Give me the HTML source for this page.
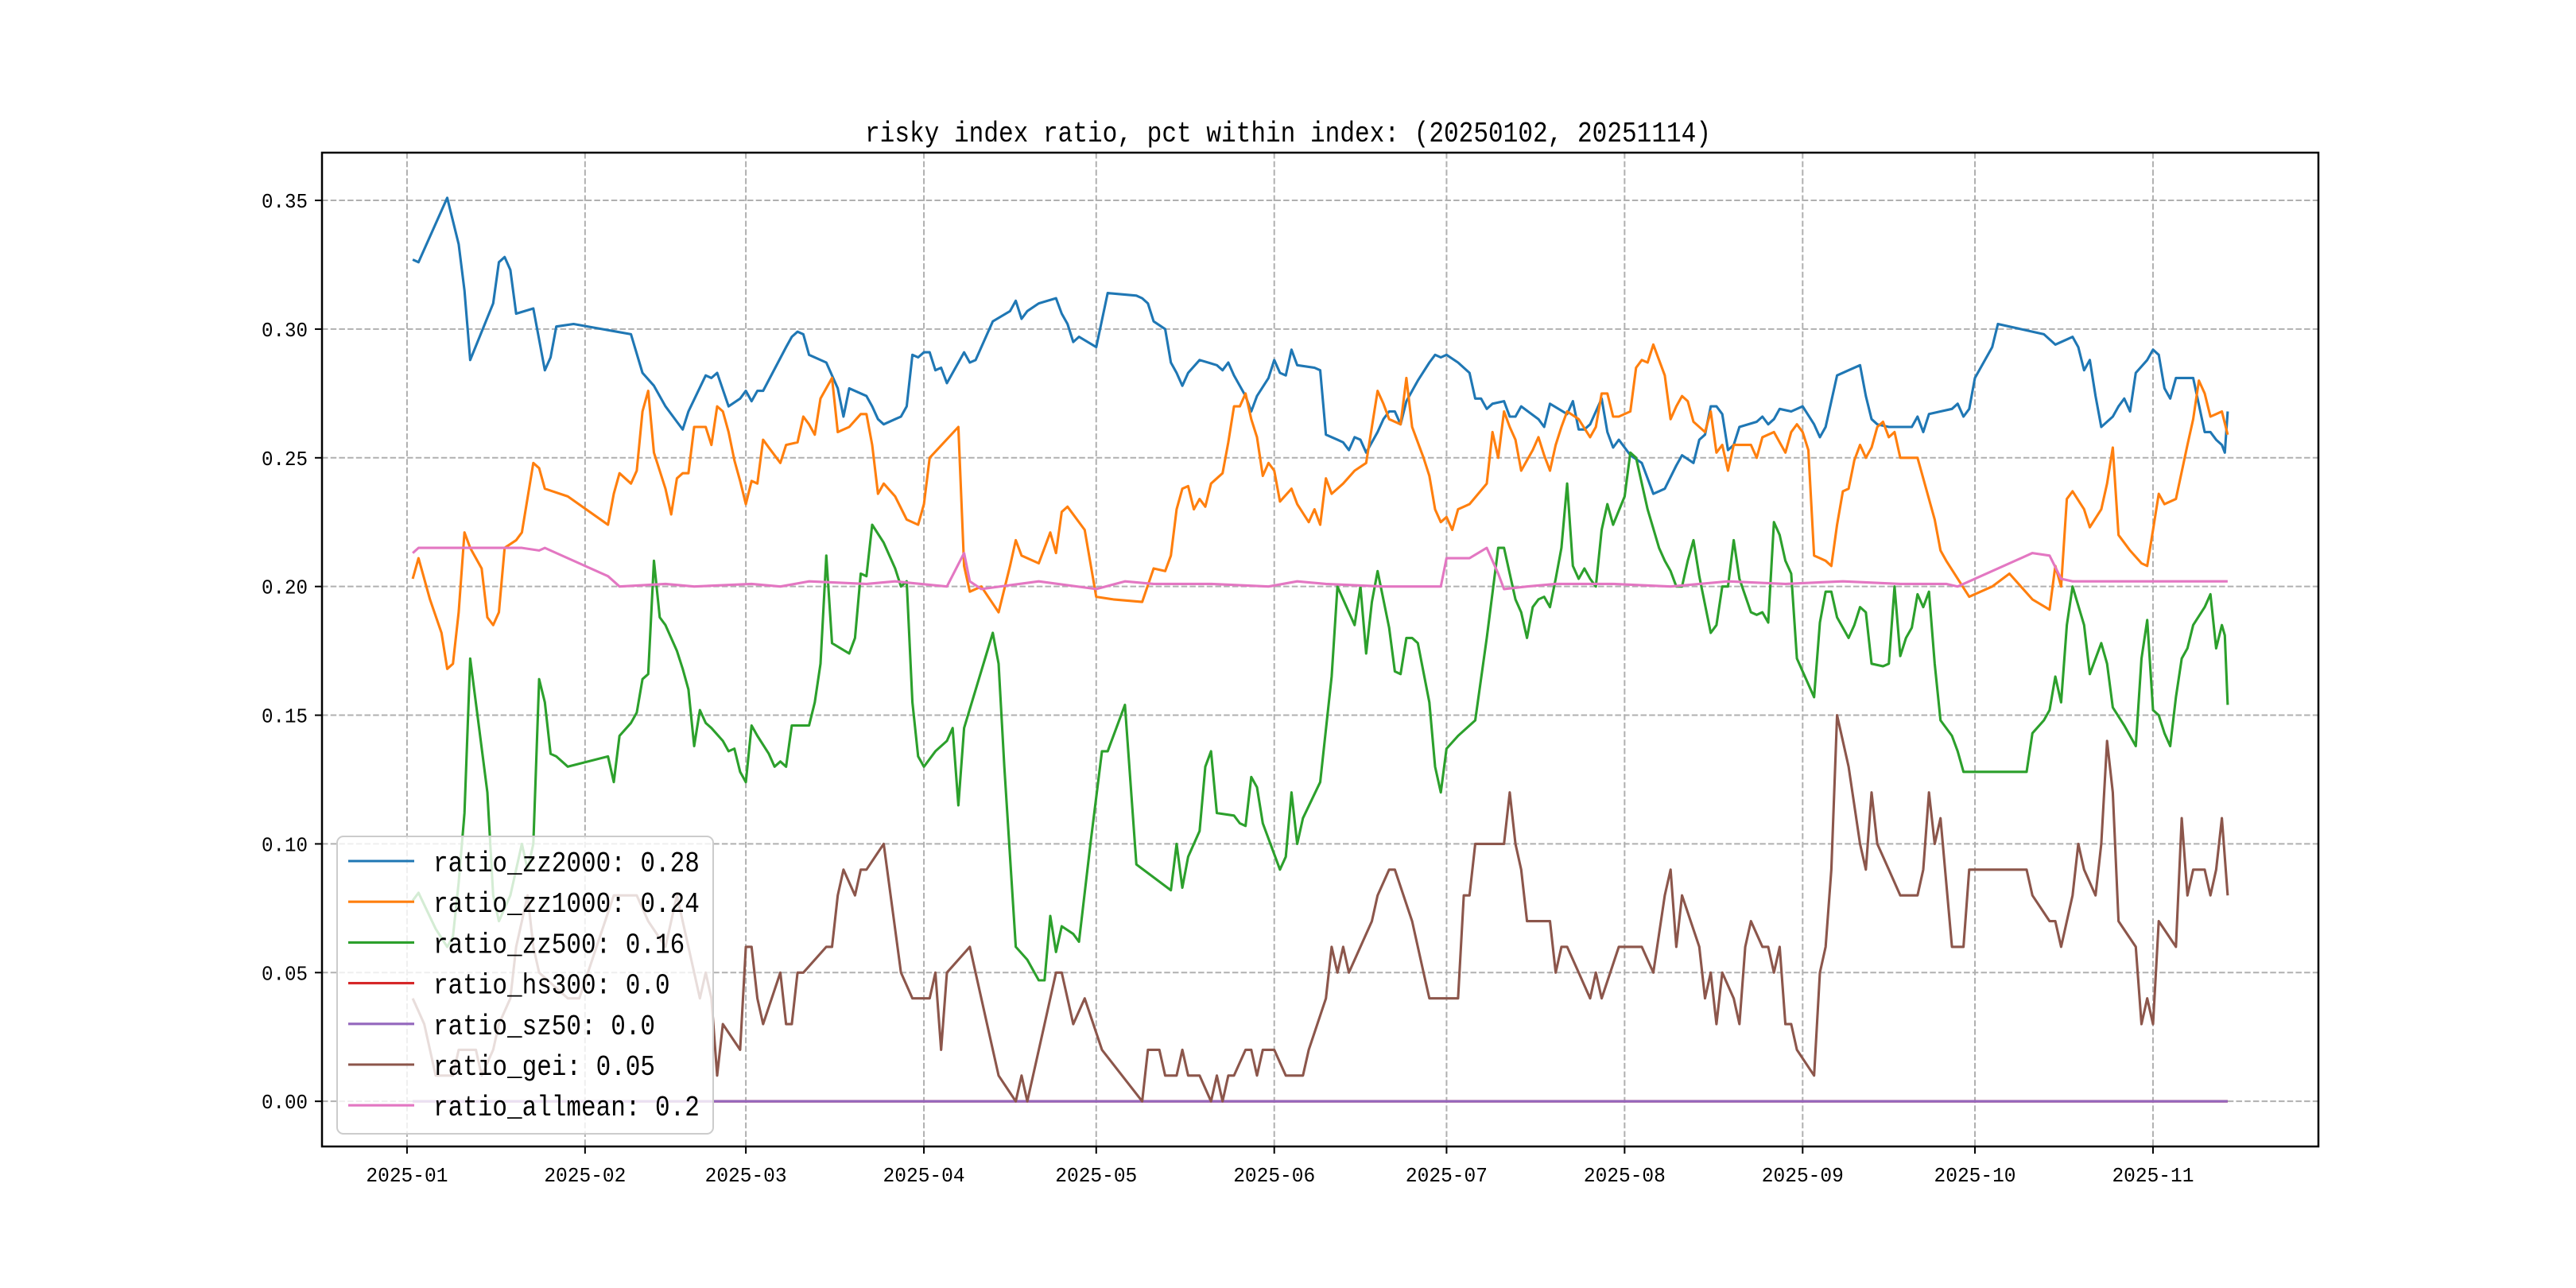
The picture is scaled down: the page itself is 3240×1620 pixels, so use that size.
<!DOCTYPE html>
<html><head><meta charset="utf-8"><title>risky index ratio</title>
<style>html,body{margin:0;padding:0;background:#fff}svg{display:block}text{font-family:"Liberation Mono","Noto Sans CJK SC",monospace}</style>
</head><body>
<svg id="chart" width="3240" height="1620" viewBox="0 0 3240 1620" xmlns="http://www.w3.org/2000/svg">
<rect x="0" y="0" width="3240" height="1620" fill="#fff"/>
<text x="1620" y="178" text-anchor="middle" font-size="36" textLength="1064" lengthAdjust="spacingAndGlyphs">risky index ratio, pct within index: (20250102, 20251114)</text>
<g id="grid"></g>
<g id="series"></g>
<rect x="405" y="192" width="2511" height="1250" fill="none" stroke="#000" stroke-width="2.5"/>
<g id="ticks"></g>
<g id="legend"></g>
</svg>
<script>
const monthDays=[0,31,59,90,120,151,181,212,243,273,304];
const monthLabels=["2025-01","2025-02","2025-03","2025-04","2025-05","2025-06","2025-07","2025-08","2025-09","2025-10","2025-11"];
const yTicks=[0,0.05,0.10,0.15,0.20,0.25,0.30,0.35];
const yTickLabels=["0.00","0.05","0.10","0.15","0.20","0.25","0.30","0.35"];
const seriesNames=["ratio_zz2000: 0.28","ratio_zz1000: 0.24","ratio_zz500: 0.16","ratio_hs300: 0.0","ratio_sz50: 0.0","ratio_gei: 0.05","ratio_allmean: 0.2"];
const colors=["#1f77b4","#ff7f0e","#2ca02c","#d62728","#9467bd","#8c564b","#e377c2"];

const zz2000Days=[1,2,7,9,10,11,15,16,17,18,19,22,24,25,26,29,39,41,43,45,47,48,49,52,53,54,56,58,59,60,61,62,66,67,68,69,70,73,74,75,76,77,80,81,82,83,85,86,87,88,89,90,91,92,93,94,97,98,99,101,102,105,106,107,108,110,113,114,115,116,117,120,122,127,128,129,130,132,133,134,135,136,138,141,142,143,144,146,147,148,150,151,152,153,154,155,158,159,160,162,163,164,165,166,167,169,170,171,172,173,174,176,178,179,180,181,183,185,186,187,188,189,191,192,193,194,197,198,199,202,203,204,205,206,208,209,210,211,213,215,216,217,218,219,221,222,224,225,226,227,228,229,230,231,232,235,236,237,238,239,241,243,245,246,247,248,249,251,253,254,255,256,258,260,262,263,264,265,267,269,270,271,272,273,274,276,277,285,287,289,290,291,292,293,294,295,297,298,299,300,301,303,304,305,306,307,308,310,311,313,314,315,316,316.5,317];
const zz2000Vals=[0.327,0.326,0.351,0.333,0.315,0.288,0.31,0.326,0.328,0.323,0.306,0.308,0.284,0.289,0.301,0.302,0.298,0.283,0.278,0.27,0.264,0.261,0.268,0.282,0.281,0.283,0.27,0.273,0.276,0.272,0.276,0.276,0.293,0.297,0.299,0.298,0.29,0.287,0.282,0.277,0.266,0.277,0.274,0.27,0.265,0.263,0.265,0.266,0.27,0.29,0.289,0.291,0.291,0.284,0.285,0.279,0.291,0.287,0.288,0.298,0.303,0.307,0.311,0.304,0.307,0.31,0.312,0.306,0.302,0.295,0.297,0.293,0.314,0.313,0.312,0.31,0.303,0.3,0.287,0.283,0.278,0.283,0.288,0.286,0.284,0.287,0.282,0.274,0.268,0.274,0.281,0.288,0.283,0.282,0.292,0.286,0.285,0.284,0.259,0.257,0.256,0.253,0.258,0.257,0.252,0.26,0.265,0.268,0.268,0.263,0.272,0.28,0.287,0.29,0.289,0.29,0.287,0.283,0.273,0.273,0.269,0.271,0.272,0.266,0.266,0.27,0.265,0.262,0.271,0.267,0.272,0.261,0.261,0.263,0.273,0.26,0.254,0.257,0.251,0.248,0.242,0.236,0.237,0.238,0.247,0.251,0.248,0.257,0.259,0.27,0.27,0.267,0.253,0.255,0.262,0.264,0.266,0.263,0.265,0.269,0.268,0.27,0.263,0.258,0.262,0.272,0.282,0.284,0.286,0.274,0.265,0.263,0.262,0.262,0.262,0.266,0.26,0.267,0.268,0.269,0.271,0.266,0.269,0.281,0.285,0.293,0.302,0.298,0.294,0.296,0.297,0.293,0.284,0.288,0.274,0.262,0.266,0.27,0.273,0.268,0.283,0.288,0.292,0.29,0.277,0.273,0.281,0.281,0.281,0.26,0.26,0.257,0.255,0.252,0.268];

const zz1000Days=[1,2,4,6,7,8,9,10,11,13,14,15,16,17,19,20,22,23,24,28,35,36,37,39,40,41,42,43,45,46,47,48,49,50,52,53,54,55,56,57,58,59,60,61,62,63,65,66,68,69,70,71,72,74,75,77,79,80,81,82,83,85,87,89,90,91,96,97,98,100,103,105,106,107,110,111,112,113,114,115,118,120,123,128,130,132,133,134,135,136,137,138,139,140,142,143,144,145,146,147,148,149,150,151,152,154,155,157,158,159,160,161,163,165,167,168,169,170,171,173,174,175,177,178,179,180,181,182,183,185,188,189,190,191,192,193,194,196,197,198,199,200,201,202,204,206,207,208,209,210,211,213,214,215,216,217,218,219,220,221,222,223,224,225,226,227,228,229,230,231,234,235,236,238,239,240,241,242,243,244,245,247,248,249,250,251,252,253,254,255,256,257,258,259,260,262,263,264,266,267,268,272,276,279,283,286,287,288,289,290,292,293,295,296,297,298,300,302,303,304,305,306,308,310,311,312,313,314,315,316,317];
const zz1000Vals=[0.203,0.211,0.195,0.182,0.168,0.17,0.19,0.221,0.215,0.207,0.188,0.185,0.19,0.215,0.218,0.221,0.248,0.246,0.238,0.235,0.224,0.236,0.244,0.24,0.245,0.268,0.276,0.252,0.238,0.228,0.242,0.244,0.244,0.262,0.262,0.255,0.27,0.268,0.26,0.249,0.241,0.232,0.241,0.24,0.257,0.254,0.248,0.255,0.256,0.266,0.263,0.259,0.273,0.281,0.26,0.262,0.267,0.267,0.255,0.236,0.24,0.235,0.226,0.224,0.232,0.25,0.262,0.208,0.198,0.2,0.19,0.208,0.218,0.212,0.209,0.215,0.221,0.213,0.229,0.231,0.222,0.196,0.195,0.194,0.207,0.206,0.212,0.23,0.238,0.239,0.23,0.234,0.231,0.24,0.244,0.256,0.27,0.27,0.275,0.265,0.258,0.243,0.248,0.245,0.233,0.238,0.232,0.225,0.23,0.224,0.242,0.236,0.24,0.245,0.248,0.262,0.276,0.271,0.265,0.263,0.281,0.262,0.25,0.243,0.23,0.225,0.227,0.222,0.23,0.232,0.24,0.26,0.25,0.268,0.262,0.257,0.245,0.253,0.258,0.251,0.245,0.255,0.262,0.268,0.265,0.258,0.262,0.275,0.275,0.266,0.266,0.268,0.285,0.288,0.287,0.294,0.288,0.282,0.265,0.27,0.274,0.272,0.264,0.262,0.26,0.268,0.252,0.255,0.245,0.255,0.255,0.25,0.258,0.26,0.256,0.252,0.26,0.263,0.26,0.253,0.212,0.21,0.208,0.224,0.237,0.238,0.249,0.255,0.25,0.254,0.262,0.264,0.258,0.26,0.25,0.25,0.25,0.242,0.226,0.214,0.21,0.196,0.2,0.205,0.195,0.191,0.208,0.2,0.234,0.237,0.23,0.223,0.23,0.24,0.254,0.22,0.214,0.209,0.208,0.222,0.236,0.232,0.234,0.255,0.265,0.28,0.275,0.266,0.267,0.268,0.259];

const zz500Days=[1,2,5,7,8,9,10,11,14,15,16,18,20,21,22,23,24,25,26,28,35,36,37,39,40,41,42,43,44,45,47,48,49,50,51,52,53,55,56,57,58,59,60,61,63,64,65,66,67,70,71,72,73,74,77,78,79,80,81,83,85,86,87,88,89,90,92,94,95,96,97,102,103,104,106,108,110,111,112,113,114,116,117,119,121,122,125,127,133,134,135,136,138,139,140,141,144,145,146,147,148,149,152,153,154,155,156,159,161,162,164,165,166,167,168,169,171,172,173,174,175,176,178,179,180,181,183,186,188,190,191,192,193,194,195,196,197,198,199,200,201,202,203,204,205,206,207,208,209,210,212,213,214,216,218,219,220,221,222,223,224,225,227,228,229,230,231,232,234,235,236,237,238,239,240,241,242,245,246,247,248,249,251,252,253,254,255,257,258,259,260,261,262,263,264,265,266,267,269,270,271,282,283,285,286,287,288,289,290,292,293,294,295,296,297,299,300,301,302,303,304,305,306,307,308,309,310,311,313,314,315,316,316.5,317];
const zz500Vals=[0.078,0.081,0.067,0.06,0.064,0.085,0.112,0.172,0.12,0.08,0.07,0.08,0.1,0.09,0.1,0.164,0.155,0.135,0.134,0.13,0.134,0.124,0.142,0.147,0.151,0.164,0.166,0.21,0.188,0.185,0.175,0.168,0.16,0.138,0.152,0.147,0.145,0.14,0.136,0.137,0.128,0.124,0.146,0.142,0.135,0.13,0.132,0.13,0.146,0.146,0.155,0.17,0.212,0.178,0.174,0.18,0.205,0.204,0.224,0.217,0.207,0.2,0.202,0.155,0.134,0.13,0.136,0.14,0.145,0.115,0.145,0.182,0.17,0.13,0.06,0.055,0.047,0.047,0.072,0.058,0.068,0.065,0.062,0.1,0.136,0.136,0.154,0.092,0.082,0.1,0.083,0.095,0.105,0.13,0.136,0.112,0.111,0.108,0.107,0.126,0.122,0.108,0.09,0.095,0.12,0.1,0.11,0.124,0.165,0.2,0.19,0.185,0.2,0.174,0.194,0.206,0.184,0.167,0.166,0.18,0.18,0.178,0.155,0.13,0.12,0.137,0.142,0.148,0.18,0.215,0.215,0.205,0.195,0.19,0.18,0.192,0.195,0.196,0.192,0.203,0.215,0.24,0.208,0.203,0.207,0.203,0.2,0.222,0.232,0.224,0.235,0.252,0.25,0.23,0.215,0.21,0.206,0.2,0.2,0.21,0.218,0.204,0.182,0.185,0.2,0.2,0.218,0.203,0.19,0.189,0.19,0.186,0.225,0.22,0.21,0.205,0.172,0.157,0.186,0.198,0.198,0.188,0.18,0.185,0.192,0.19,0.17,0.169,0.17,0.2,0.173,0.18,0.184,0.197,0.192,0.198,0.17,0.148,0.142,0.136,0.128,0.128,0.143,0.148,0.152,0.165,0.155,0.185,0.2,0.185,0.166,0.172,0.178,0.17,0.153,0.146,0.142,0.138,0.172,0.187,0.152,0.15,0.143,0.138,0.157,0.172,0.176,0.185,0.192,0.197,0.176,0.185,0.181,0.154];

const zeroDays=[1,317];
const hs300Vals=[0,0];
const sz50Vals=[0,0];

const geiDays=[1,2,3,5,8,9,12,13,15,16,18,19,20,21,22,23,28,30,33,36,40,42,45,47,50,51,52,53,54,55,58,59,60,61,62,65,66,67,68,69,73,74,75,76,78,79,80,83,86,88,91,92,93,94,98,101,103,106,107,108,111,113,114,116,118,121,128,129,131,132,134,135,136,138,140,141,142,143,144,146,147,148,149,151,153,156,157,160,161,162,163,164,166,168,169,171,172,175,177,178,183,184,185,186,191,192,193,194,195,199,200,201,202,204,206,207,208,211,215,217,219,220,221,222,225,226,227,228,229,231,232,233,234,236,237,238,239,240,241,242,245,246,247,248,249,251,253,254,255,256,258,260,263,264,265,266,267,269,271,272,282,283,286,287,288,290,291,292,294,295,296,297,298,301,302,303,304,305,308,309,310,311,313,314,315,316,317];
const geiVals=[0.04,0.035,0.03,0.01,0.01,0.02,0.02,0.01,0.02,0.03,0.04,0.06,0.07,0.08,0.06,0.05,0.04,0.04,0.06,0.08,0.08,0.07,0.06,0.08,0.05,0.04,0.05,0.04,0.01,0.03,0.02,0.06,0.06,0.04,0.03,0.05,0.03,0.03,0.05,0.05,0.06,0.06,0.08,0.09,0.08,0.09,0.09,0.1,0.05,0.04,0.04,0.05,0.02,0.05,0.06,0.03,0.01,0.0,0.01,0.0,0.03,0.05,0.05,0.03,0.04,0.02,0.0,0.02,0.02,0.01,0.01,0.02,0.01,0.01,0.0,0.01,0.0,0.01,0.01,0.02,0.02,0.01,0.02,0.02,0.01,0.01,0.02,0.04,0.06,0.05,0.06,0.05,0.06,0.07,0.08,0.09,0.09,0.07,0.05,0.04,0.04,0.08,0.08,0.1,0.1,0.12,0.1,0.09,0.07,0.07,0.05,0.06,0.06,0.05,0.04,0.05,0.04,0.06,0.06,0.05,0.08,0.09,0.06,0.08,0.06,0.04,0.05,0.03,0.05,0.04,0.03,0.06,0.07,0.06,0.06,0.05,0.06,0.03,0.03,0.02,0.01,0.05,0.06,0.09,0.15,0.13,0.1,0.09,0.12,0.1,0.09,0.08,0.08,0.09,0.12,0.1,0.11,0.06,0.06,0.09,0.09,0.08,0.07,0.07,0.06,0.08,0.1,0.09,0.08,0.1,0.14,0.12,0.07,0.06,0.03,0.04,0.03,0.07,0.06,0.11,0.08,0.09,0.09,0.08,0.09,0.11,0.08];

const allmeanDays=[1,2,20,23,24,25,35,36,37,45,50,60,65,70,80,85,94,97,98,100,110,120,125,130,140,150,155,160,170,180,181,185,188,190,191,195,200,210,220,230,240,250,260,268,270,283,286,288,290,300,310,317];
const allmeanVals=[0.213,0.215,0.215,0.214,0.215,0.214,0.204,0.202,0.2,0.201,0.2,0.201,0.2,0.202,0.201,0.202,0.2,0.213,0.202,0.199,0.202,0.199,0.202,0.201,0.201,0.2,0.202,0.201,0.2,0.2,0.211,0.211,0.215,0.205,0.199,0.2,0.201,0.201,0.2,0.202,0.201,0.202,0.201,0.201,0.2,0.213,0.212,0.203,0.202,0.202,0.202,0.202];

const NS="http://www.w3.org/2000/svg";
const L=405,R=2916,T=192,B=1442;
const xMin=-14.8,xMax=332.8,yMin=-0.01755,yMax=0.36855;
function xs(d){return L+(d-xMin)/(xMax-xMin)*(R-L);}
function ys(v){return B-(v-yMin)/(yMax-yMin)*(B-T);}
function mk(tag,attrs,parent){const e=document.createElementNS(NS,tag);for(const k in attrs)e.setAttribute(k,attrs[k]);parent.appendChild(e);return e;}

const grid=document.getElementById('grid'),ticks=document.getElementById('ticks');
monthDays.forEach((d,i)=>{
  const x=xs(d);
  const g=mk('line',{x1:x,x2:x,y1:T,y2:B,stroke:'#b0b0b0','stroke-width':2,'stroke-dasharray':'7.5,3.2'},grid);
  
  
  const t=mk('line',{x1:x,x2:x,y1:B,y2:B+9,stroke:'#000','stroke-width':2},ticks);
  
  
  const lb=mk('text',{x:x,y:B+44,'text-anchor':'middle','font-size':26,textLength:103,lengthAdjust:'spacingAndGlyphs'},ticks);
  lb.textContent=monthLabels[i];
  
  
});
yTicks.forEach((v,i)=>{
  const y=ys(v);
  const g=mk('line',{x1:L,x2:R,y1:y,y2:y,stroke:'#b0b0b0','stroke-width':2,'stroke-dasharray':'7.5,3.2'},grid);
  
  
  const t=mk('line',{x1:L-9,x2:L,y1:y,y2:y,stroke:'#000','stroke-width':2},ticks);
  
  
  const lb=mk('text',{x:L-18,y:y+9,'text-anchor':'end','font-size':26,textLength:58,lengthAdjust:'spacingAndGlyphs'},ticks);
  lb.textContent=yTickLabels[i];
  
  
});

const seriesG=document.getElementById('series');
const allSeries=[[zz2000Days,zz2000Vals],[zz1000Days,zz1000Vals],[zz500Days,zz500Vals],[zeroDays,hs300Vals],[zeroDays,sz50Vals],[geiDays,geiVals],[allmeanDays,allmeanVals]];
const sNames=['line-zz2000','line-zz1000','line-zz500','line-hs300','line-sz50','line-gei','line-allmean'];
allSeries.forEach((s,i)=>{
  const pts=s[0].map((d,j)=>xs(d).toFixed(1)+','+ys(s[1][j]).toFixed(1)).join(' ');
  const p=mk('polyline',{points:pts,fill:'none',stroke:colors[i],'stroke-width':3.1,'stroke-linejoin':'round'},seriesG);
  
  
});

const lg=document.getElementById('legend');
const box=mk('rect',{x:424,y:1052,width:473,height:374,rx:8,fill:'#fff','fill-opacity':0.8,stroke:'#cccccc','stroke-width':2},lg);


seriesNames.forEach((n,i)=>{
  const y=1083+i*51.2;
  const h=mk('line',{x1:438,x2:521,y1:y,y2:y,stroke:colors[i],'stroke-width':3.1},lg);
  
  
  const t=mk('text',{x:545,y:y+13,'font-size':36,textLength:(n.length*18.6).toFixed(1),lengthAdjust:'spacingAndGlyphs'},lg);
  t.textContent=n;
  
  
});
</script>
</body></html>
